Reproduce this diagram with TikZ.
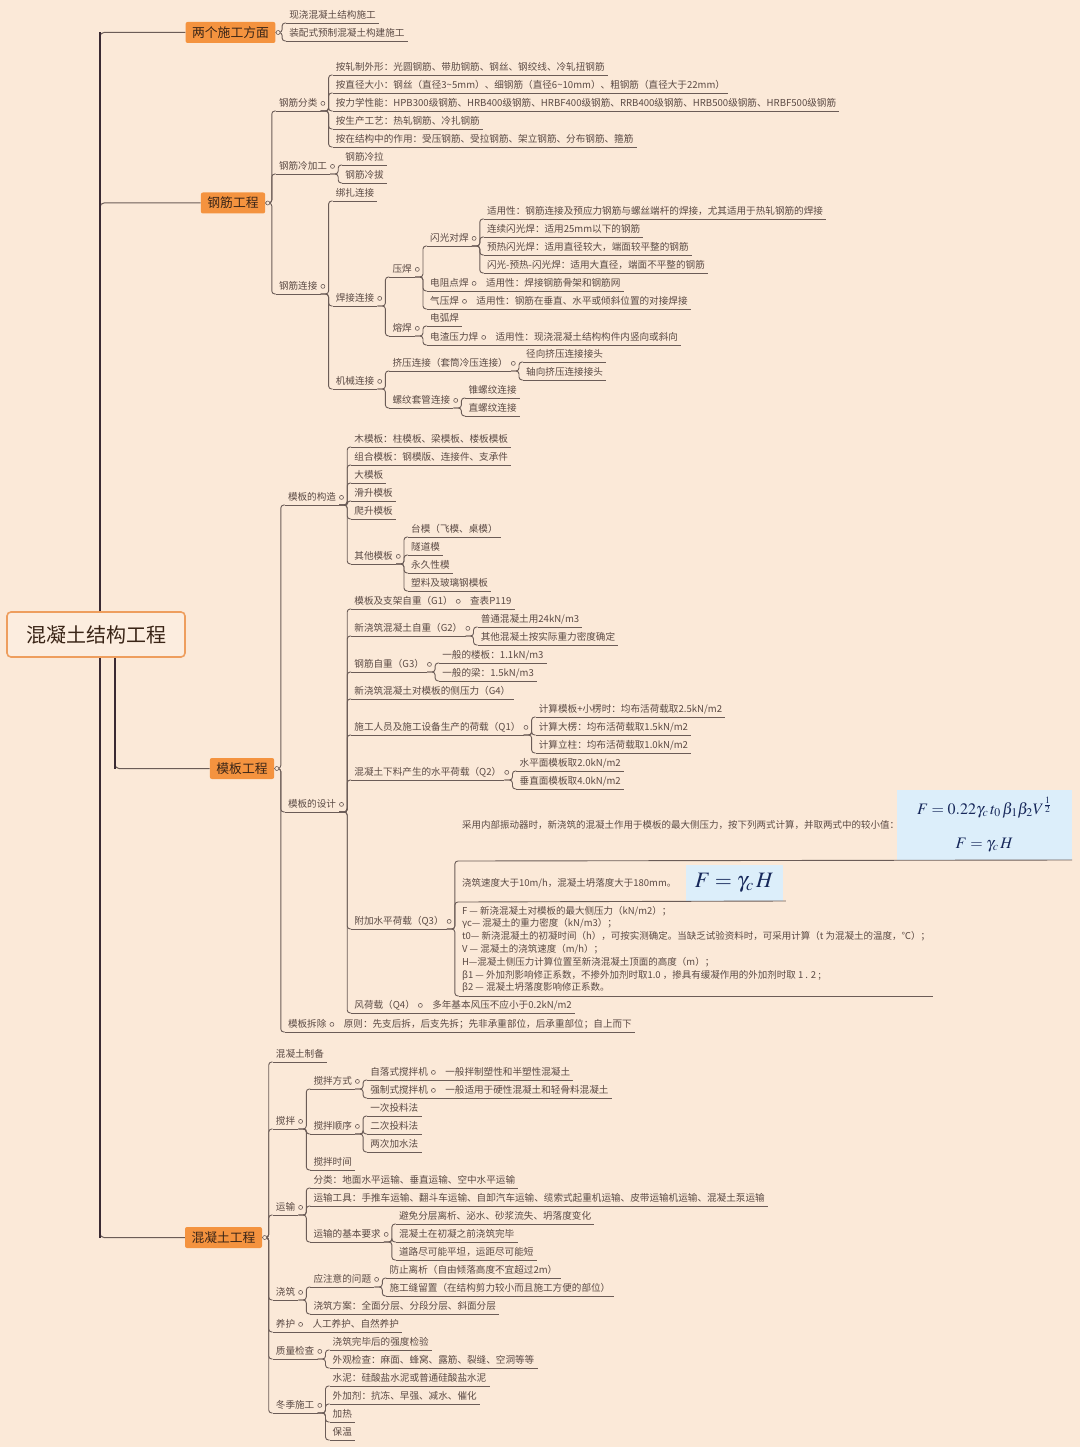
\documentclass[tikz,border=0pt]{standalone}
\usepackage{mathptmx}
\usepackage[no-math]{fontspec}
\setmainfont{Noto Sans CJK SC}

\definecolor{bgc}{HTML}{FBE9D8}
\definecolor{txc}{HTML}{5B4A44}
\definecolor{lkc}{HTML}{6B5C57}
\definecolor{tkc}{HTML}{3A2A33}
\definecolor{orc}{HTML}{F4933F}
\definecolor{tpt}{HTML}{3A2517}
\definecolor{rtf}{HTML}{FCEDDF}
\definecolor{rtb}{HTML}{EE9E5E}
\definecolor{fbc}{HTML}{DCEEFA}
\definecolor{fml}{HTML}{16275A}
\newcommand{\leaffont}{\fontsize{9.6}{11}\selectfont}
\newcommand{\notefont}{\fontsize{9.5}{12.8}\selectfont}

\begin{document}
\begin{tikzpicture}[x=1pt, y=-1pt,
    lk/.style={draw=lkc, line width=0.9pt, rounded corners=3pt},
    br/.style={rounded corners=3pt, to path={-- ++(8,0) |- (\tikztotarget)}},
    brt/.style={rounded corners=3pt, to path={-- ++(6.5,0) |- (\tikztotarget)}},
    uline/.style={append after command={(\tikzlastnode.south west) edge[lk] (\tikzlastnode.south east)}},
    leaf/.style={uline, anchor=south west, font=\leaffont, text=txc,
      inner xsep=3pt, inner ysep=2.4pt, text height=8pt, text depth=2pt},
    knob/.style={circle, draw=lkc, fill=bgc, line width=0.6pt, minimum size=4pt, inner sep=0pt},
    hub/.style={leaf, label={[knob]east:}},
    note/.style={anchor=south west, font=\notefont, text=txc, inner xsep=3pt, inner ysep=3pt, align=left},
    fbox/.style={fill=fbc, text=fml, inner sep=0pt, align=center},
    topic/.style={fill=orc, rounded corners=2pt, font=\fontsize{12.8}{15}\selectfont, text=tpt,
      inner xsep=6.5pt, inner ysep=0pt, minimum height=21pt},
    rootbox/.style={draw=rtb, line width=1.6pt, fill=rtf, rounded corners=4pt, minimum width=178pt,
      minimum height=45pt, font=\fontsize{20}{24}\selectfont, text=tpt},
    trunk/.style={draw=tkc, line width=2.3pt},
    twig/.style={draw=lkc, line width=1pt, rounded corners=4pt}]
  \fill[bgc] (0,0) rectangle (1080,1447);
  \useasboundingbox (0,0) rectangle (1080,1447);

  % root and main topics
  \node[rootbox] (root) at (96,634.5) {混凝土结构工程};
  \node[topic] (two) at (230.5,32.5) {两个施工方面};
  \node[topic] (gj) at (233,203) {钢筋工程};
  \node[topic] (mb) at (242,768.5) {模板工程};
  \node[topic] (hnt) at (223.5,1237.5) {混凝土工程};

  % 两个施工方面
  \node[leaf] (two1) at ([xshift=10.5pt]two.east |- 0,23) {现浇混凝土结构施工};
  \node[leaf] (two2) at ([xshift=10.5pt]two.east |- 0,41) {装配式预制混凝土构建施工};

  % 钢筋工程
  \node[hub] (gjfl) at ([xshift=10.5pt]gj.east |- 0,111) {钢筋分类};
  \node[leaf] (gjfl1) at ([xshift=12pt]gjfl.south east |- 0,75) {按轧制外形：光圆钢筋、带肋钢筋、钢丝、钢绞线、冷轧扭钢筋};
  \node[leaf] (gjfl2) at ([xshift=12pt]gjfl.south east |- 0,93) {按直径大小：钢丝（直径3\textasciitilde5mm）、细钢筋（直径6\textasciitilde10mm）、粗钢筋（直径大于22mm）};
  \node[leaf] (gjfl3) at ([xshift=12pt]gjfl.south east |- 0,111) {按力学性能：HPB300级钢筋、HRB400级钢筋、HRBF400级钢筋、RRB400级钢筋、HRB500级钢筋、HRBF500级钢筋};
  \node[leaf] (gjfl4) at ([xshift=12pt]gjfl.south east |- 0,129) {按生产工艺：热轧钢筋、冷扎钢筋};
  \node[leaf] (gjfl5) at ([xshift=12pt]gjfl.south east |- 0,147) {按在结构中的作用：受压钢筋、受拉钢筋、架立钢筋、分布钢筋、箍筋};
  \node[hub] (gjlj) at ([xshift=10.5pt]gj.east |- 0,174) {钢筋冷加工};
  \node[leaf] (gjlj1) at ([xshift=12pt]gjlj.south east |- 0,165) {钢筋冷拉};
  \node[leaf] (gjlj2) at ([xshift=12pt]gjlj.south east |- 0,183) {钢筋冷拔};
  \node[hub] (gjlk) at ([xshift=10.5pt]gj.east |- 0,294) {钢筋连接};
  \node[leaf] (bz) at ([xshift=12pt]gjlk.south east |- 0,201) {绑扎连接};
  \node[hub] (hj) at ([xshift=12pt]gjlk.south east |- 0,306) {焊接连接};
  \node[hub] (yh) at ([xshift=12pt]hj.south east |- 0,277) {压焊};
  \node[hub] (sg) at ([xshift=12pt]yh.south east |- 0,246) {闪光对焊};
  \node[leaf] (sg1) at ([xshift=12pt]sg.south east |- 0,219) {适用性：钢筋连接及预应力钢筋与螺丝端杆的焊接，尤其适用于热轧钢筋的焊接};
  \node[leaf] (sg2) at ([xshift=12pt]sg.south east |- 0,237) {连续闪光焊：适用25mm以下的钢筋};
  \node[leaf] (sg3) at ([xshift=12pt]sg.south east |- 0,255) {预热闪光焊：适用直径较大，端面较平整的钢筋};
  \node[leaf] (sg4) at ([xshift=12pt]sg.south east |- 0,273) {闪光-预热-闪光焊：适用大直径，端面不平整的钢筋};
  \node[hub] (dz) at ([xshift=12pt]yh.south east |- 0,291) {电阻点焊};
  \node[leaf] (dz1) at ([xshift=11pt]dz.south east) {适用性：焊接钢筋骨架和钢筋网};
  \node[hub] (qy) at ([xshift=12pt]yh.south east |- 0,309) {气压焊};
  \node[leaf] (qy1) at ([xshift=11pt]qy.south east) {适用性：钢筋在垂直、水平或倾斜位置的对接焊接};
  \node[hub] (rh) at ([xshift=12pt]hj.south east |- 0,336) {熔焊};
  \node[leaf] (rh1) at ([xshift=12pt]rh.south east |- 0,326) {电弧焊};
  \node[hub] (rh2) at ([xshift=12pt]rh.south east |- 0,345) {电渣压力焊};
  \node[leaf] (rh3) at ([xshift=11pt]rh2.south east) {适用性：现浇混凝土结构构件内竖向或斜向};
  \node[hub] (jx) at ([xshift=12pt]gjlk.south east |- 0,389) {机械连接};
  \node[hub] (jy) at ([xshift=12pt]jx.south east |- 0,371) {挤压连接（套筒冷压连接）};
  \node[leaf] (jy1) at ([xshift=12pt]jy.south east |- 0,362) {径向挤压连接接头};
  \node[leaf] (jy2) at ([xshift=12pt]jy.south east |- 0,380) {轴向挤压连接接头};
  \node[hub] (lw) at ([xshift=12pt]jx.south east |- 0,408) {螺纹套管连接};
  \node[leaf] (lw1) at ([xshift=12pt]lw.south east |- 0,398) {锥螺纹连接};
  \node[leaf] (lw2) at ([xshift=12pt]lw.south east |- 0,416) {直螺纹连接};

  % 模板工程
  \node[hub] (gz) at ([xshift=10.5pt]mb.east |- 0,505) {模板的构造};
  \node[leaf] (gz1) at ([xshift=12pt]gz.south east |- 0,447) {木模板：柱模板、梁模板、楼板模板};
  \node[leaf] (gz2) at ([xshift=12pt]gz.south east |- 0,465) {组合模板：钢模版、连接件、支承件};
  \node[leaf] (gz3) at ([xshift=12pt]gz.south east |- 0,483) {大模板};
  \node[leaf] (gz4) at ([xshift=12pt]gz.south east |- 0,501) {滑升模板};
  \node[leaf] (gz5) at ([xshift=12pt]gz.south east |- 0,519) {爬升模板};
  \node[hub] (qt) at ([xshift=12pt]gz.south east |- 0,564) {其他模板};
  \node[leaf] (qt1) at ([xshift=12pt]qt.south east |- 0,537) {台模（飞模、桌模）};
  \node[leaf] (qt2) at ([xshift=12pt]qt.south east |- 0,555) {隧道模};
  \node[leaf] (qt3) at ([xshift=12pt]qt.south east |- 0,573) {永久性模};
  \node[leaf] (qt4) at ([xshift=12pt]qt.south east |- 0,591) {塑料及玻璃钢模板};
  \node[hub] (sj) at ([xshift=10.5pt]mb.east |- 0,812) {模板的设计};
  \node[hub] (g1) at ([xshift=12pt]sj.south east |- 0,609) {模板及支架自重（G1）};
  \node[leaf] (g1a) at ([xshift=11pt]g1.south east) {查表P119};
  \node[hub] (g2) at ([xshift=12pt]sj.south east |- 0,636) {新浇筑混凝土自重（G2）};
  \node[leaf] (g2a) at ([xshift=12pt]g2.south east |- 0,627) {普通混凝土用24kN/m3};
  \node[leaf] (g2b) at ([xshift=12pt]g2.south east |- 0,645) {其他混凝土按实际重力密度确定};
  \node[hub] (g3) at ([xshift=12pt]sj.south east |- 0,672) {钢筋自重（G3）};
  \node[leaf] (g3a) at ([xshift=12pt]g3.south east |- 0,663) {一般的楼板：1.1kN/m3};
  \node[leaf] (g3b) at ([xshift=12pt]g3.south east |- 0,681) {一般的梁：1.5kN/m3};
  \node[leaf] (g4) at ([xshift=12pt]sj.south east |- 0,699) {新浇筑混凝土对模板的侧压力（G4）};
  \node[hub] (q1) at ([xshift=12pt]sj.south east |- 0,735) {施工人员及施工设备生产的荷载（Q1）};
  \node[leaf] (q1a) at ([xshift=12pt]q1.south east |- 0,717) {计算模板+小楞时：均布活荷载取2.5kN/m2};
  \node[leaf] (q1b) at ([xshift=12pt]q1.south east |- 0,735) {计算大楞：均布活荷载取1.5kN/m2};
  \node[leaf] (q1c) at ([xshift=12pt]q1.south east |- 0,753) {计算立柱：均布活荷载取1.0kN/m2};
  \node[hub] (q2) at ([xshift=12pt]sj.south east |- 0,780) {混凝土下料产生的水平荷载（Q2）};
  \node[leaf] (q2a) at ([xshift=12pt]q2.south east |- 0,771) {水平面模板取2.0kN/m2};
  \node[leaf] (q2b) at ([xshift=12pt]q2.south east |- 0,789) {垂直面模板取4.0kN/m2};
  \node[hub] (q3) at ([xshift=12pt]sj.south east |- 0,929) {附加水平荷载（Q3）};
  \node[note, minimum height=71pt] (q3a) at ([xshift=12pt]q3.south east |- 0,861)
    {采用内部振动器时，新浇筑的混凝土作用于模板的最大侧压力，按下列两式计算，并取两式中的较小值：};
  \node[fbox, anchor=south east, minimum width=175pt, minimum height=70pt,
    font=\fontsize{16}{20}\selectfont] (f1) at (1072,860)
    {$F=0.22\gamma_c\,t_0\,\beta_1\beta_2V^{\frac{1}{2}}$\\[14pt]$F=\gamma_c\,H$};
  \node[note, minimum height=37pt] (q3b) at ([xshift=12pt]q3.south east |- 0,902)
    {浇筑速度大于10m/h，混凝土坍落度大于180mm。};
  \node[fbox, anchor=south west, minimum width=97pt, minimum height=36pt,
    font=\fontsize{22}{26}\selectfont] (f2) at ([xshift=6pt,yshift=1pt]q3b.south east) {$F=\gamma_c\,H$};
  \node[note, uline] (q3c) at ([xshift=12pt]q3.south east |- 0,996)
    {F — 新浇混凝土对模板的最大侧压力（kN/m2）；\\
     γc— 混凝土的重力密度（kN/m3）；\\
     t0— 新浇混凝土的初凝时间（h），可按实测确定。当缺乏试验资料时，可采用计算（t 为混凝土的温度，℃）；\\
     V — 混凝土的浇筑速度（m/h）；\\
     H—混凝土侧压力计算位置至新浇混凝土顶面的高度（m）；\\
     β1 — 外加剂影响修正系数，不掺外加剂时取1.0 ，掺具有缓凝作用的外加剂时取 1 . 2 ;\\
     β2 — 混凝土坍落度影响修正系数。};
  \node[hub] (q4) at ([xshift=12pt]sj.south east |- 0,1013) {风荷载（Q4）};
  \node[leaf] (q4a) at ([xshift=11pt]q4.south east) {多年基本风压不应小于0.2kN/m2};
  \node[hub] (cc) at ([xshift=10.5pt]mb.east |- 0,1032) {模板拆除};
  \node[leaf] (cc1) at ([xshift=11pt]cc.south east) {原则：先支后拆，后支先拆；先非承重部位，后承重部位；自上而下};

  % 混凝土工程
  \node[leaf] (zb) at ([xshift=10.5pt]hnt.east |- 0,1062) {混凝土制备};
  \node[hub] (jb) at ([xshift=10.5pt]hnt.east |- 0,1129) {搅拌};
  \node[hub] (fs) at ([xshift=12pt]jb.south east |- 0,1089) {搅拌方式};
  \node[hub] (fs1) at ([xshift=12pt]fs.south east |- 0,1080) {自落式搅拌机};
  \node[leaf] (fs1a) at ([xshift=11pt]fs1.south east) {一般拌制塑性和半塑性混凝土};
  \node[hub] (fs2) at ([xshift=12pt]fs.south east |- 0,1098) {强制式搅拌机};
  \node[leaf] (fs2a) at ([xshift=11pt]fs2.south east) {一般适用于硬性混凝土和轻骨料混凝土};
  \node[hub] (sx) at ([xshift=12pt]jb.south east |- 0,1134) {搅拌顺序};
  \node[leaf] (sx1) at ([xshift=12pt]sx.south east |- 0,1116) {一次投料法};
  \node[leaf] (sx2) at ([xshift=12pt]sx.south east |- 0,1134) {二次投料法};
  \node[leaf] (sx3) at ([xshift=12pt]sx.south east |- 0,1152) {两次加水法};
  \node[leaf] (sjn) at ([xshift=12pt]jb.south east |- 0,1170) {搅拌时间};
  \node[hub] (ys) at ([xshift=10.5pt]hnt.east |- 0,1215) {运输};
  \node[leaf] (ys1) at ([xshift=12pt]ys.south east |- 0,1188) {分类：地面水平运输、垂直运输、空中水平运输};
  \node[leaf] (ys2) at ([xshift=12pt]ys.south east |- 0,1206) {运输工具：手推车运输、翻斗车运输、自卸汽车运输、缆索式起重机运输、皮带运输机运输、混凝土泵运输};
  \node[hub] (yq) at ([xshift=12pt]ys.south east |- 0,1242) {运输的基本要求};
  \node[leaf] (yq1) at ([xshift=12pt]yq.south east |- 0,1224) {避免分层离析、泌水、砂浆流失、坍落度变化};
  \node[leaf] (yq2) at ([xshift=12pt]yq.south east |- 0,1242) {混凝土在初凝之前浇筑完毕};
  \node[leaf] (yq3) at ([xshift=12pt]yq.south east |- 0,1260) {道路尽可能平坦，运距尽可能短};
  \node[hub] (jz) at ([xshift=10.5pt]hnt.east |- 0,1300) {浇筑};
  \node[hub] (zy) at ([xshift=12pt]jz.south east |- 0,1287) {应注意的问题};
  \node[leaf] (zy1) at ([xshift=12pt]zy.south east |- 0,1278) {防止离析（自由倾落高度不宜超过2m）};
  \node[leaf] (zy2) at ([xshift=12pt]zy.south east |- 0,1296) {施工缝留置（在结构剪力较小而且施工方便的部位）};
  \node[leaf] (fa) at ([xshift=12pt]jz.south east |- 0,1314) {浇筑方案：全面分层、分段分层、斜面分层};
  \node[hub] (yhu) at ([xshift=10.5pt]hnt.east |- 0,1332) {养护};
  \node[leaf] (yhu1) at ([xshift=11pt]yhu.south east) {人工养护、自然养护};
  \node[hub] (zl) at ([xshift=10.5pt]hnt.east |- 0,1359) {质量检查};
  \node[leaf] (zl1) at ([xshift=12pt]zl.south east |- 0,1350) {浇筑完毕后的强度检验};
  \node[leaf] (zl2) at ([xshift=12pt]zl.south east |- 0,1368) {外观检查：麻面、蜂窝、露筋、裂缝、空洞等等};
  \node[hub] (dj) at ([xshift=10.5pt]hnt.east |- 0,1413) {冬季施工};
  \node[leaf] (dj1) at ([xshift=12pt]dj.south east |- 0,1386) {水泥：硅酸盐水泥或普通硅酸盐水泥};
  \node[leaf] (dj2) at ([xshift=12pt]dj.south east |- 0,1404) {外加剂：抗冻、早强、减水、催化};
  \node[leaf] (dj3) at ([xshift=12pt]dj.south east |- 0,1422) {加热};
  \node[leaf] (dj4) at ([xshift=12pt]dj.south east |- 0,1440) {保温};

  % connectors
  \draw[lk] (two.east) edge[brt] (two1.south west) edge[brt] (two2.south west);
  \draw[lk] (gj.east) edge[brt] (gjfl.south west) edge[brt] (gjlj.south west) edge[brt] (gjlk.south west);
  \draw[lk] (gjfl.south east) edge[br] (gjfl1.south west) edge[br] (gjfl2.south west)
    edge[br] (gjfl3.south west) edge[br] (gjfl4.south west) edge[br] (gjfl5.south west);
  \draw[lk] (gjlj.south east) edge[br] (gjlj1.south west) edge[br] (gjlj2.south west);
  \draw[lk] (gjlk.south east) edge[br] (bz.south west) edge[br] (hj.south west) edge[br] (jx.south west);
  \draw[lk] (hj.south east) edge[br] (yh.south west) edge[br] (rh.south west);
  \draw[lk] (yh.south east) edge[br] (sg.south west) edge[br] (dz.south west) edge[br] (qy.south west);
  \draw[lk] (sg.south east) edge[br] (sg1.south west) edge[br] (sg2.south west)
    edge[br] (sg3.south west) edge[br] (sg4.south west);
  \draw[lk] (dz.south east) -- (dz1.south west);
  \draw[lk] (qy.south east) -- (qy1.south west);
  \draw[lk] (rh.south east) edge[br] (rh1.south west) edge[br] (rh2.south west);
  \draw[lk] (rh2.south east) -- (rh3.south west);
  \draw[lk] (jx.south east) edge[br] (jy.south west) edge[br] (lw.south west);
  \draw[lk] (jy.south east) edge[br] (jy1.south west) edge[br] (jy2.south west);
  \draw[lk] (lw.south east) edge[br] (lw1.south west) edge[br] (lw2.south west);

  \draw[lk] (mb.east) edge[brt] (gz.south west) edge[brt] (sj.south west) edge[brt] (cc.south west);
  \draw[lk] (gz.south east) edge[br] (gz1.south west) edge[br] (gz2.south west) edge[br] (gz3.south west)
    edge[br] (gz4.south west) edge[br] (gz5.south west) edge[br] (qt.south west);
  \draw[lk] (qt.south east) edge[br] (qt1.south west) edge[br] (qt2.south west)
    edge[br] (qt3.south west) edge[br] (qt4.south west);
  \draw[lk] (sj.south east) edge[br] (g1.south west) edge[br] (g2.south west) edge[br] (g3.south west)
    edge[br] (g4.south west) edge[br] (q1.south west) edge[br] (q2.south west)
    edge[br] (q3.south west) edge[br] (q4.south west);
  \draw[lk] (g1.south east) -- (g1a.south west);
  \draw[lk] (g2.south east) edge[br] (g2a.south west) edge[br] (g2b.south west);
  \draw[lk] (g3.south east) edge[br] (g3a.south west) edge[br] (g3b.south west);
  \draw[lk] (q1.south east) edge[br] (q1a.south west) edge[br] (q1b.south west) edge[br] (q1c.south west);
  \draw[lk] (q2.south east) edge[br] (q2a.south west) edge[br] (q2b.south west);
  \draw[lk] (q3.south east) edge[br] (q3a.south west) edge[br] (q3b.south west) edge[br] (q3c.south west);
  \draw[lk] (q3a.south west) -- (f1.south east);
  \draw[lk] (q3b.south west) -- ([xshift=3pt]f2.south east);
  \draw[lk] (q4.south east) -- (q4a.south west);
  \draw[lk] (cc.south east) -- (cc1.south west);

  \draw[lk] (hnt.east) edge[brt] (zb.south west) edge[brt] (jb.south west) edge[brt] (ys.south west)
    edge[brt] (jz.south west) edge[brt] (yhu.south west) edge[brt] (zl.south west) edge[brt] (dj.south west);
  \draw[lk] (jb.south east) edge[br] (fs.south west) edge[br] (sx.south west) edge[br] (sjn.south west);
  \draw[lk] (fs.south east) edge[br] (fs1.south west) edge[br] (fs2.south west);
  \draw[lk] (fs1.south east) -- (fs1a.south west);
  \draw[lk] (fs2.south east) -- (fs2a.south west);
  \draw[lk] (sx.south east) edge[br] (sx1.south west) edge[br] (sx2.south west) edge[br] (sx3.south west);
  \draw[lk] (ys.south east) edge[br] (ys1.south west) edge[br] (ys2.south west) edge[br] (yq.south west);
  \draw[lk] (yq.south east) edge[br] (yq1.south west) edge[br] (yq2.south west) edge[br] (yq3.south west);
  \draw[lk] (jz.south east) edge[br] (zy.south west) edge[br] (fa.south west);
  \draw[lk] (zy.south east) edge[br] (zy1.south west) edge[br] (zy2.south west);
  \draw[lk] (yhu.south east) -- (yhu1.south west);
  \draw[lk] (zl.south east) edge[br] (zl1.south west) edge[br] (zl2.south west);
  \draw[lk] (dj.south east) edge[br] (dj1.south west) edge[br] (dj2.south west)
    edge[br] (dj3.south west) edge[br] (dj4.south west);

  % trunks from the root
  \coordinate (up) at ([xshift=4pt]root.north);
  \coordinate (dn) at ([xshift=4pt]root.south);
  \coordinate (dn2) at ([xshift=19pt]root.south);
  \draw[twig] (up |- two.west) ++(0,5) |- (two.west);
  \draw[twig] (up |- gj.west) ++(0,5) |- (gj.west);
  \draw[twig] (dn2 |- mb.west) ++(0,-5) |- (mb.west);
  \draw[twig] (dn |- hnt.west) ++(0,-5) |- (hnt.west);
  \draw[trunk] (up) -- (up |- two.west);
  \draw[trunk] (dn) -- (dn |- hnt.west);
  \draw[trunk] (dn2) -- (dn2 |- mb.west);

  \node[knob] (twok) at ([xshift=2.5pt]two.east) {};
  \node[knob] (gjk) at ([xshift=2.5pt]gj.east) {};
  \node[knob] (mbk) at ([xshift=2.5pt]mb.east) {};
  \node[knob] (hntk) at ([xshift=2.5pt]hnt.east) {};
\end{tikzpicture}
\end{document}
